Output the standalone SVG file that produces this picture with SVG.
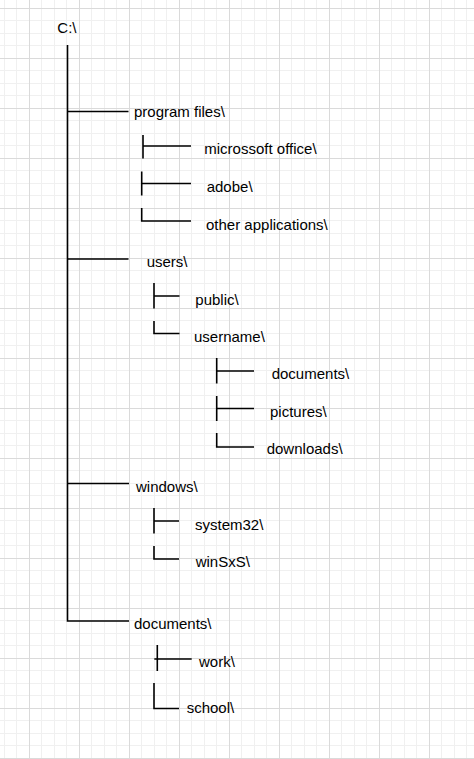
<svg xmlns="http://www.w3.org/2000/svg" width="474" height="759" viewBox="0 0 474 759">
<defs>
<pattern id="grid" patternUnits="userSpaceOnUse" x="29" y="8" width="50" height="50">
<rect width="50" height="50" fill="#ffffff"/>
<rect x="12" y="0" width="1" height="50" fill="#f0f0f0"/>
<rect x="25" y="0" width="1" height="50" fill="#f0f0f0"/>
<rect x="37" y="0" width="1" height="50" fill="#f0f0f0"/>
<rect x="0" y="12" width="50" height="1" fill="#f0f0f0"/>
<rect x="0" y="25" width="50" height="1" fill="#f0f0f0"/>
<rect x="0" y="37" width="50" height="1" fill="#f0f0f0"/>
<rect x="0" y="0" width="1" height="50" fill="#dadada"/>
<rect x="0" y="0" width="50" height="1" fill="#dadada"/>
</pattern>
<style>
.c{fill:none;stroke:#000;stroke-width:1.6}
text{font-family:"Liberation Sans",Arial,sans-serif;font-size:15px;fill:#000}
</style>
</defs>
<rect width="474" height="759" fill="url(#grid)"/>
<g id="connectors">
<path class="c" d="M67.5 45V621H129"/>
<path class="c" d="M67.5 111.5H128.5M67.5 259H128.5M67.5 483.5H129"/>
<path class="c" d="M143 135V158.5M142.5 146H191"/>
<path class="c" d="M141.7 171.5V195.5M141.7 183.5H191"/>
<path class="c" d="M141.7 208V221H191"/>
<path class="c" d="M154 283V308.5M154 296H179.5"/>
<path class="c" d="M154 321V333.5H179.5"/>
<path class="c" d="M216.7 358V383.5M216.7 371H254"/>
<path class="c" d="M216.7 396V421M216.7 408.5H254"/>
<path class="c" d="M216.7 433V447H254"/>
<path class="c" d="M154 508V533.5M154 521H179"/>
<path class="c" d="M154 546V559H179"/>
<path class="c" d="M157.3 645V671M154.3 659H191.7"/>
<path class="c" d="M154 683V708.5H179"/>
</g>
<g id="root"><text x="57.3" y="32.7">C:\</text></g>
<g id="program-files"><text x="134" y="116.7">program files\</text></g>
<g id="microsoft-office"><text x="204.3" y="154.3">microssoft office\</text></g>
<g id="adobe"><text x="206.7" y="191.7">adobe\</text></g>
<g id="other-applications"><text x="206" y="230">other applications\</text></g>
<g id="users"><text x="146.7" y="267.3">users\</text></g>
<g id="public"><text x="195.3" y="305">public\</text></g>
<g id="username"><text x="194" y="341.7">username\</text></g>
<g id="user-documents"><text x="271.7" y="379.3">documents\</text></g>
<g id="pictures"><text x="270" y="416.7">pictures\</text></g>
<g id="downloads"><text x="266.7" y="454">downloads\</text></g>
<g id="windows"><text x="136" y="491.7">windows\</text></g>
<g id="system32"><text x="195" y="530">system32\</text></g>
<g id="winsxs"><text x="195.7" y="566.7">winSxS\</text></g>
<g id="documents"><text x="134" y="629.3">documents\</text></g>
<g id="work"><text x="199" y="666.7">work\</text></g>
<g id="school"><text x="186.7" y="713.3">school\</text></g>
</svg>
